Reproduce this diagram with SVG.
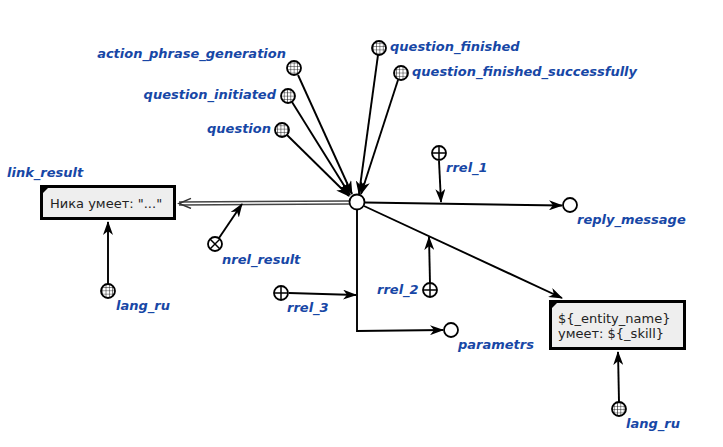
<svg xmlns="http://www.w3.org/2000/svg" width="723" height="447" viewBox="0 0 723 447">
<style>
.lbl{font-family:"DejaVu Sans",sans-serif;font-weight:bold;font-style:italic;font-size:13px;fill:#1747a6}
.txt{font-family:"DejaVu Sans",sans-serif;font-size:13px;fill:#222}
.n{fill:#fff;stroke:#000;stroke-width:1.8}
.cls{fill:url(#grid);stroke:#000;stroke-width:1.8}
.rel line{stroke:#000;stroke-width:1.5}
.arc{fill:none;stroke:#000;stroke-width:1.9;marker-end:url(#ah)}
.box{fill:#eeeeee;stroke:#000;stroke-width:3}
</style>
<defs>
<pattern id="grid" patternUnits="userSpaceOnUse" width="3.3" height="3.3">
<rect width="3.3" height="3.3" fill="#fff"/>
<path d="M0,0H3.3M0,0V3.3" stroke="#111" stroke-width="1"/>
</pattern>
<marker id="ah" markerUnits="userSpaceOnUse" markerWidth="14" markerHeight="10" refX="13" refY="5" orient="auto" viewBox="0 0 14 10">
<path d="M0,0 L14,5 L0,10 L4,5 z" fill="#000"/>
</marker>
<marker id="ahd" markerUnits="userSpaceOnUse" markerWidth="16" markerHeight="12" refX="14" refY="6" orient="auto" viewBox="0 0 16 12">
<path d="M2,1 L14,6 L2,11" fill="none" stroke="#333" stroke-width="1.5"/>
</marker>
</defs>
<rect width="723" height="447" fill="#fff"/>
<g id="connectors">
<line class="arc" x1="298" y1="75" x2="352" y2="194"/>
<line class="arc" x1="292" y1="102" x2="350" y2="195"/>
<line class="arc" x1="287" y1="135" x2="349" y2="196"/>
<line class="arc" x1="378" y1="55" x2="359" y2="194"/>
<line class="arc" x1="398" y1="80" x2="361" y2="194"/>
<path d="M349,202.5 L179,203.5" fill="none" stroke="#444" stroke-width="4.4"/>
<path d="M349,202.5 L179,203.5" fill="none" stroke="#fff" stroke-width="1.6" marker-end="url(#ahd)"/>
<line class="arc" x1="219" y1="238" x2="242" y2="204"/>
<line class="arc" x1="365" y1="202.5" x2="562" y2="205.5"/>
<line class="arc" x1="439" y1="161" x2="441" y2="202"/>
<line class="arc" x1="364" y1="206" x2="562" y2="298"/>
<line class="arc" x1="430" y1="283" x2="429" y2="237"/>
<path class="arc" d="M357,210 L357,331 L443,330"/>
<line class="arc" x1="289" y1="293" x2="356" y2="295"/>
<line class="arc" x1="108" y1="284" x2="108" y2="222"/>
<line class="arc" x1="619" y1="402" x2="618" y2="352"/>
</g>
<g id="center"><circle class="n" cx="357" cy="202" r="7.5"/></g>
<g id="action_phrase_generation"><circle class="cls" cx="294" cy="68" r="7"/><text class="lbl" x="286" y="58" text-anchor="end">action_phrase_generation</text></g>
<g id="question_initiated"><circle class="cls" cx="288" cy="96" r="7"/><text class="lbl" x="276" y="99" text-anchor="end">question_initiated</text></g>
<g id="question"><circle class="cls" cx="282" cy="130" r="7"/><text class="lbl" x="271" y="133" text-anchor="end">question</text></g>
<g id="question_finished"><circle class="cls" cx="379" cy="48" r="7"/><text class="lbl" x="390" y="51">question_finished</text></g>
<g id="question_finished_successfully"><circle class="cls" cx="401" cy="73" r="7"/><text class="lbl" x="412" y="76">question_finished_successfully</text></g>
<g id="rrel_1" class="rel"><circle class="n" cx="439" cy="153" r="7"/><line x1="432" y1="153" x2="446" y2="153"/><line x1="439" y1="146" x2="439" y2="160"/><text class="lbl" x="446" y="172">rrel_1</text></g>
<g id="rrel_2" class="rel"><circle class="n" cx="430" cy="290" r="7"/><line x1="423" y1="290" x2="437" y2="290"/><line x1="430" y1="283" x2="430" y2="297"/><text class="lbl" x="377" y="294">rrel_2</text></g>
<g id="rrel_3" class="rel"><circle class="n" cx="281" cy="293" r="7"/><line x1="274" y1="293" x2="288" y2="293"/><line x1="281" y1="286" x2="281" y2="300"/><text class="lbl" x="287" y="312">rrel_3</text></g>
<g id="nrel_result" class="rel"><circle class="n" cx="215" cy="244" r="7"/><line x1="210" y1="239" x2="220" y2="249"/><line x1="220" y1="239" x2="210" y2="249"/><text class="lbl" x="222" y="264">nrel_result</text></g>
<g id="reply_message"><circle class="n" cx="570" cy="205" r="7"/><text class="lbl" x="577" y="224">reply_message</text></g>
<g id="parametrs"><circle class="n" cx="451" cy="330" r="7"/><text class="lbl" x="458" y="349">parametrs</text></g>
<g id="lang_ru_1"><circle class="cls" cx="108" cy="291" r="7"/><text class="lbl" x="116" y="310">lang_ru</text></g>
<g id="lang_ru_2"><circle class="cls" cx="619" cy="409" r="7"/><text class="lbl" x="626" y="428">lang_ru</text></g>
<g id="link_result"><rect class="box" x="41.5" y="186.5" width="133" height="32"/><path d="M43,188 h5 l-5,5 z" fill="#000"/><text class="txt" x="50" y="208">Ника умеет: "..."</text><text class="lbl" x="7" y="177">link_result</text></g>
<g id="template"><rect class="box" x="550.5" y="301.5" width="134" height="47"/><path d="M552,303 h5 l-5,5 z" fill="#000"/><text class="txt" x="558" y="323">${_entity_name}</text><text class="txt" x="558" y="338">умеет: ${_skill}</text></g>
</svg>
